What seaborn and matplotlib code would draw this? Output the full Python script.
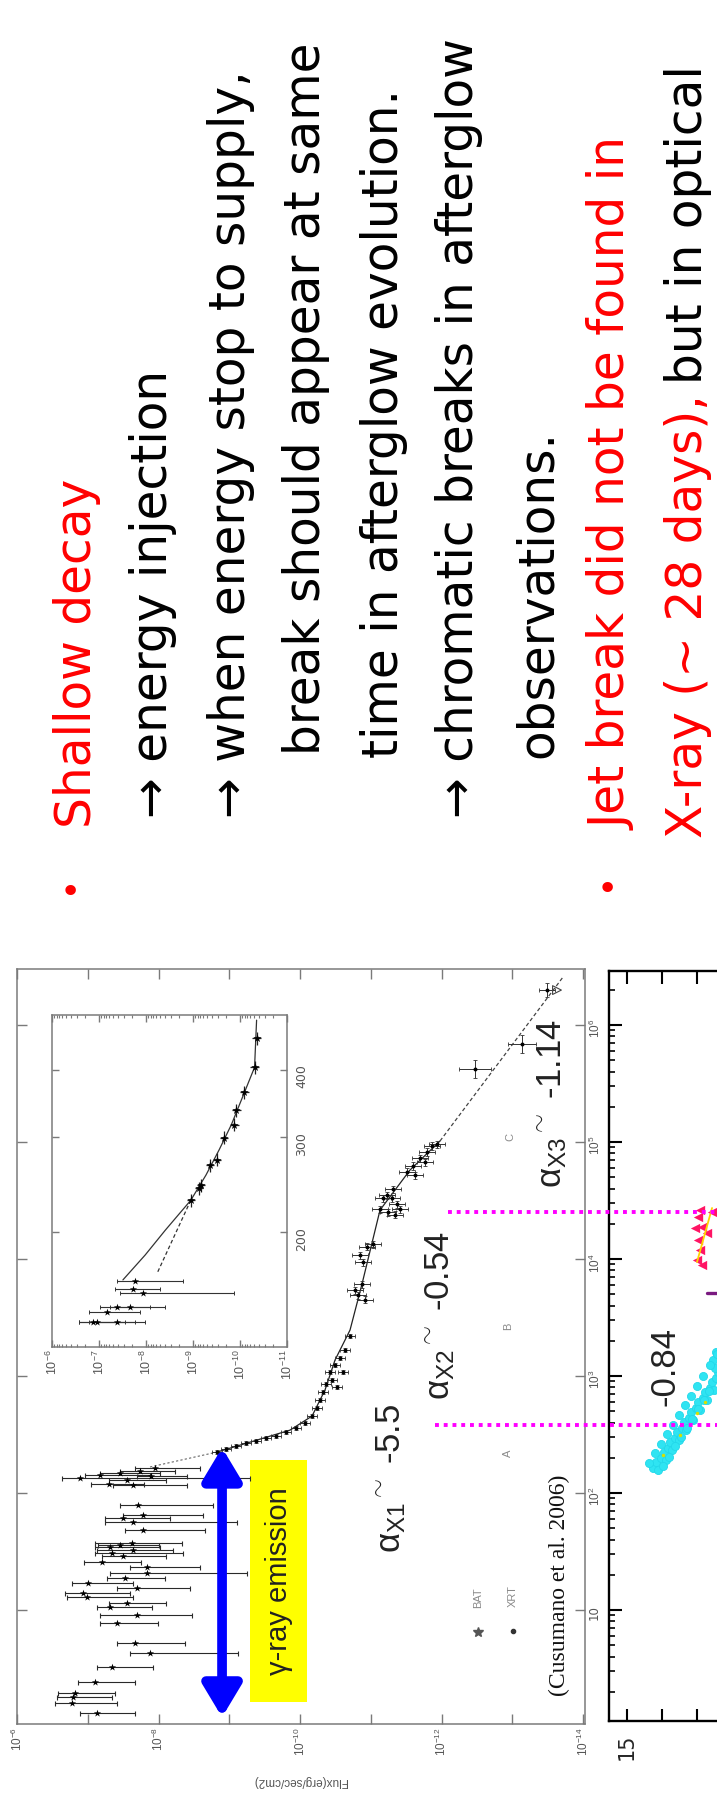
import matplotlib
matplotlib.use("Agg")
import matplotlib.pyplot as plt
import matplotlib.ticker as mticker
from matplotlib.patches import Rectangle
import numpy as np
import pandas as pd
import seaborn as sns

sns.set_style("white")
plt.rcParams["font.family"] = ["DejaVu Sans"]
plt.rcParams["mathtext.fontset"] = "custom"
plt.rcParams["mathtext.rm"] = "Liberation Sans"
plt.rcParams["mathtext.it"] = "Liberation Sans:italic"
plt.rcParams["mathtext.bf"] = "Liberation Sans:bold"
plt.rcParams["axes.unicode_minus"] = True

# ------------------------------------------------------------------ data
# Swift/BAT points: time (s), log10 flux (erg/s/cm2) and bar ends
bat_time = [1.32, 1.60, 1.80, 1.95, 2.43, 3.26, 4.29, 5.22, 7.74, 9.06, 10.6,
            12.9, 14.0, 15.4, 17.0, 18.8, 20.7, 23.3, 30.7, 32.6, 34.5, 37.4,
            48.3, 56.5, 61.1, 64.8, 78.9, 117, 134, 143, 148, 154, 164,
            29.0, 36.0, 120, 128, 140, 25.5, 11.5]
bat_logflux = [-7.131, -6.777, -6.792, -6.820, -7.102, -7.343, -7.880, -7.668,
               -7.413, -7.696, -7.314, -6.989, -6.933, -7.696, -7.004, -7.527,
               -7.837, -7.837, -7.343, -7.640, -7.314, -7.625, -7.781, -7.640,
               -7.498, -7.781, -7.710, -7.640, -6.890, -7.173, -7.456, -7.739, -7.951,
               -7.50, -7.45, -7.30, -7.55, -7.90, -7.20, -7.55]
bat_logflux_hi = [-6.890, -6.537, -6.565, -6.580, -6.862, -7.131, -7.597, -7.413,
                  -7.173, -7.173, -7.131, -6.707, -6.678, -7.413, -6.777, -7.272,
                  -7.314, -7.597, -7.102, -7.131, -7.102, -7.102, -7.527, -7.244,
                  -7.244, -7.498, -7.456, -7.357, -6.636, -6.961, -7.173, -7.456, -7.668,
                  -7.20, -7.15, -7.05, -7.30, -7.70, -6.95, -7.30]
bat_logflux_lo = [-7.668, -7.413, -7.343, -7.385, -7.668, -7.922, -9.124, -8.375,
                  -7.993, -8.473, -7.908, -7.640, -7.597, -8.445, -7.640, -8.092,
                  -9.251, -8.587, -8.346, -8.205, -8.021, -8.332, -8.657, -9.110,
                  -8.163, -8.629, -8.770, -8.403, -9.293, -7.880, -8.021, -8.233, -8.587,
                  -8.10, -8.00, -7.80, -8.10, -8.40, -7.75, -8.10]

# Swift/XRT points
xrt_time = [224, 238, 252, 268, 278, 295, 307, 332, 359, 396, 455, 532, 623, 729,
            855, 1081, 1242, 1425, 925, 1081, 805, 1667, 2198,
            4920, 6110, 5430, 4470, 10810, 12680, 13430, 9420, 26700, 33200, 35200,
            33200, 29500, 26700, 25200, 39600, 23800, 55500, 62400, 72900, 82200,
            92500, 96200, 67500, 52200,
            421000, 689000, 1990000]
xrt_logflux = [-8.827, -8.954, -9.095, -9.237, -9.378, -9.519, -9.661, -9.802, -9.943,
               -10.071, -10.170, -10.240, -10.283, -10.325, -10.367, -10.424, -10.495,
               -10.565, -10.452, -10.608, -10.523, -10.636, -10.707,
               -10.820, -10.876, -10.777, -10.919, -10.848, -10.947, -11.032, -10.890,
               -11.131, -11.173, -11.230, -11.300, -11.371, -11.413, -11.244, -11.314,
               -11.343, -11.512, -11.597, -11.696, -11.795, -11.866, -11.936, -11.767,
               -11.625,
               -12.473, -13.138, -13.491]
xrt_flux_err_dex = [0.07] * 23 + [0.11] * 25 + [0.22, 0.20, 0.11]
xrt_time_err_dex = [0.02] * 23 + [0.03] * 25 + [0.08, 0.08, 0.06]
xrt_uplim_time = [1990000]
xrt_uplim_logflux = [-13.632]

# broken power-law model
model_time = [224, 345, 455, 759, 1371, 2472, 6110, 26240, 57680, 102100]
model_logflux = [-8.827, -9.859, -10.170, -10.353, -10.495, -10.707, -10.876,
                 -11.131, -11.555, -11.979]
model_late_time = [102100, 2570000]
model_late_logflux = [-11.979, -13.717]
model_early_time = [167, 224]
model_early_logflux = [-7.880, -8.827]

# chromatic-break epochs (magenta dotted lines)
break_time = [25230, 381]
break_start_logflux = [-12.092, -11.908]
break_end_logflux = -15.894

# inset
inset_time = [457, 404, 363, 336, 316, 299, 272, 266, 244, 241, 229]
inset_logflux = [-10.353, -10.310, -10.095, -9.922, -9.879, -9.664, -9.513, -9.362,
                 -9.168, -9.125, -8.953]
inset_bat_time = [162, 154, 157, 145, 145, 142, 136, 136, 136]
inset_bat_logflux = [-7.767, -7.940, -7.724, -7.659, -7.379, -7.164, -6.862, -7.379, -6.948]
inset_bat_logflux_hi = [-7.379, -7.444, -7.336, -7.228, -7.013, -6.797, -6.582, -6.797, -6.582]
inset_bat_logflux_lo = [-8.780, -9.879, -8.306, -8.414, -8.091, -7.875, -7.552, -7.983, -7.767]
inset_model_time = [494, 404, 363, 316, 284, 255, 229, 201.7, 181.3, 163]
inset_model_logflux = [-10.353, -10.310, -10.095, -9.815, -9.556, -9.276, -8.953,
                       -8.414, -7.983, -7.509]
inset_dash_time = [229, 168]
inset_dash_logflux = [-8.953, -8.241]

# optical panel (cut off at the right)
opt_cyan_time = [164, 157, 184, 199, 192, 224, 242, 233, 273, 295, 284, 332, 359, 345,
                 404, 437, 421, 492, 532, 512, 600, 649, 624, 730, 789, 759, 889, 961,
                 1081, 1170, 1371, 1603,
                 170, 205, 250, 300, 360, 430, 520, 620, 740,
                 180, 220, 265, 320, 385, 465, 560, 680, 820, 1000, 1250, 1550]
opt_cyan_mag = [15.74, 15.89, 15.83, 15.97, 16.11, 16.06, 16.17, 16.29, 16.23, 16.37,
                16.49, 16.43, 16.57, 16.69, 16.63, 16.77, 16.89, 16.83, 16.97, 17.09,
                17.03, 17.17, 17.29, 17.23, 17.37, 17.49, 17.43, 17.54, 17.60, 17.51,
                17.46, 17.54,
                16.02, 16.19, 16.37, 16.53, 16.70, 16.86, 17.03, 17.19, 17.35,
                15.62, 15.80, 15.97, 16.14, 16.31, 16.48, 16.65, 16.82, 16.99, 17.17,
                17.37, 17.56]
opt_yellow_time = [211, 313, 483, 600]
opt_yellow_mag = [16.03, 16.51, 17.00, 17.23]
opt_red_time = [26200, 22860, 18790, 14530, 11940, 9800, 8890, 25230, 16670, 18410]
opt_red_mag = [17.09, 17.03, 17.14, 17.03, 17.09, 17.00, 17.14, 17.43, 17.29, 16.94]
opt_redfit_time = [9420, 27300]
opt_redfit_mag = [17.00, 17.43]
opt_purple_time = [5120, 5120]
opt_purple_mag = [17.29, 17.57]
opt_mag_label_ticks = [15]
opt_mag_minor_ticks = [16, 17, 18, 19, 20, 21, 22, 23, 24, 25, 26]

flux_tick_exp = list(range(-6, -15, -1))
time_tick_exp = list(range(1, 7))
inset_flux_tick_exp = list(range(-6, -12, -1))
inset_time_ticks = [200, 300, 400]

slide_lines = [
    ("Shallow decay", "#ff0000"),
    ("\u2192 energy injection", "black"),
    ("\u2192 when energy stop to supply,", "black"),
    ("break should appear at same", "black"),
    ("time in afterglow evolution.", "black"),
    ("\u2192 chromatic breaks in afterglow", "black"),
    ("observations.", "black"),
    ("Jet break did not be found in", "#ff0000"),
    ("X-ray (~ 28 days),", "#ff0000"),
    ("but in optical", "black"),
]

# ------------------------------------------------------------------ figure
W, H = 717, 1800
fig = plt.figure(figsize=(W / 100, H / 100), dpi=100)
fig.patch.set_facecolor("white")


def fx(px):
    return px / W


def fy(py):
    return 1 - py / H


GRAY = "#7a7a7a"

# ---------------- main light curve (rotated by 90 degrees) ----------------
ax = fig.add_axes([fx(17), fy(1724), 568 / W, 755 / H])
ax.set_zorder(3)
ax.set_xscale("log")
ax.set_yscale("log")

bat_flux = 10 ** np.array(bat_logflux)
bat_hi = 10 ** np.array(bat_logflux_hi)
bat_lo = 10 ** np.array(bat_logflux_lo)
ax.errorbar(bat_flux, bat_time, xerr=[bat_flux - bat_lo, bat_hi - bat_flux], fmt="none",
            ecolor="#2a2a2a", elinewidth=0.8, capsize=1.8, capthick=0.8, zorder=3)
sns.scatterplot(x=bat_flux, y=bat_time, ax=ax, color="black", marker="*", s=30,
                linewidth=0, legend=False, zorder=4)

xrt_flux = 10 ** np.array(xrt_logflux)
xrt_t = np.array(xrt_time, dtype=float)
fe = np.array(xrt_flux_err_dex)
te = np.array(xrt_time_err_dex)
ax.errorbar(xrt_flux, xrt_t,
            xerr=[xrt_flux - xrt_flux * 10 ** -fe, xrt_flux * 10 ** fe - xrt_flux],
            yerr=[xrt_t - xrt_t * 10 ** -te, xrt_t * 10 ** te - xrt_t],
            fmt="none", ecolor="#333333", elinewidth=0.7, capsize=1.2, capthick=0.6, zorder=3)
sns.scatterplot(x=xrt_flux, y=xrt_t, ax=ax, color="black", marker="o", s=8,
                linewidth=0, legend=False, zorder=4)
sns.scatterplot(x=10 ** np.array(xrt_uplim_logflux), y=xrt_uplim_time, ax=ax, marker=">",
                s=40, facecolor="none", edgecolor="#444444", linewidth=0.8, legend=False, zorder=4)

sns.lineplot(x=10 ** np.array(model_logflux), y=model_time, ax=ax, sort=False,
             estimator=None, color="#222222", lw=0.9, zorder=2)
sns.lineplot(x=10 ** np.array(model_late_logflux), y=model_late_time, ax=ax, sort=False,
             estimator=None, color="#444444", lw=0.9, linestyle=(0, (3, 2)), zorder=2)
sns.lineplot(x=10 ** np.array(model_early_logflux), y=model_early_time, ax=ax, sort=False,
             estimator=None, color="#666666", lw=0.8, linestyle=(0, (2, 2)), zorder=2)

ax.set_xlim(1e-6, 10 ** -14.028)
ax.set_ylim(10 ** 0.026, 10 ** 6.479)
ax.set_xlabel("")
ax.set_ylabel("")

for s in ax.spines.values():
    s.set_color(GRAY)
    s.set_linewidth(1.1)


def flux_fmt(v, p):
    e = int(round(np.log10(v)))
    return r"$10^{%d}$" % e if e % 2 == 0 else ""


def time_fmt(v, p):
    e = int(round(np.log10(v)))
    return "10" if e == 1 else r"$10^{%d}$" % e


ax.xaxis.set_major_locator(mticker.FixedLocator([10.0 ** e for e in flux_tick_exp]))
ax.xaxis.set_minor_locator(mticker.NullLocator())
ax.xaxis.set_major_formatter(mticker.FuncFormatter(flux_fmt))
ax.yaxis.set_major_locator(mticker.FixedLocator([10.0 ** e for e in time_tick_exp]))
ax.yaxis.set_minor_locator(mticker.NullLocator())
ax.yaxis.set_major_formatter(mticker.FuncFormatter(time_fmt))
ax.yaxis.tick_right()
ax.tick_params(axis="both", which="major", direction="in", length=7, width=1.0,
               color=GRAY, labelcolor="#555555", labelsize=8.5,
               top=True, bottom=True, left=True, right=True)
ax.tick_params(axis="x", labelrotation=90, pad=2)
ax.tick_params(axis="y", labelrotation=90, pad=2, labelleft=False, labelright=True)

# chromatic break epochs
ax.hlines(break_time, [10 ** v for v in break_start_logflux], 10 ** break_end_logflux,
          colors="#ff00ff", linestyles=[(0, (1, 1.25))], lw=2.8, clip_on=False, zorder=6)

# gamma-ray emission marker
ax.add_patch(Rectangle((0.410, 0.029), 0.101, 0.321, transform=ax.transAxes,
                       facecolor="#ffff00", edgecolor="none", zorder=1))
ax.text(0.4604, 0.1894, "\u03b3-ray emission", transform=ax.transAxes, rotation=90,
        ha="center", va="center", fontsize=21, family=["Liberation Sans", "DejaVu Sans"],
        color="#222222", zorder=5)
ax.annotate("", xy=(0.361, 0.366), xytext=(0.361, 0.009), xycoords="axes fraction",
            arrowprops=dict(arrowstyle="<|-|>,head_length=0.8,head_width=0.48",
                            mutation_scale=24, color="#0000ff", lw=7,
                            shrinkA=0, shrinkB=0), zorder=5)

# slope annotations
alpha_kw = dict(transform=ax.transAxes, rotation=90, ha="center", va="center",
                fontsize=25, family=["Liberation Sans", "DejaVu Sans"], color="#222222",
                zorder=5)
ax.text(0.6585, 0.3258, r"$\mathrm{\alpha}_{\mathrm{X1}}{}^{\sim}$ -5.5", **alpha_kw)
ax.text(0.7447, 0.5417, r"$\mathrm{\alpha}_{\mathrm{X2}}{}^{\sim}$ -0.54", **alpha_kw)
ax.text(0.9419, 0.8225, r"$\mathrm{\alpha}_{\mathrm{X3}}{}^{\sim}$ -1.14", **alpha_kw)

small_kw = dict(transform=ax.transAxes, rotation=90, ha="center", va="center",
                family=["Liberation Sans", "DejaVu Sans"], color="#8a8a8a", zorder=5)
ax.text(0.8644, 0.3589, "A", fontsize=8, **small_kw)
ax.text(0.8644, 0.5272, "B", fontsize=8, **small_kw)
ax.text(0.8680, 0.7775, "C", fontsize=8, **small_kw)
ax.text(0.8116, 0.1669, "BAT", fontsize=8, **small_kw)
ax.text(0.8732, 0.1695, "XRT", fontsize=8, **small_kw)
ax.plot([0.8116], [0.1219], marker="*", ms=7, color="#555555", transform=ax.transAxes, zorder=5)
ax.plot([0.8732], [0.1232], marker="o", ms=3, color="#333333", transform=ax.transAxes, zorder=5)
ax.text(0.9542, 0.1841, "(Cusumano et al. 2006)", transform=ax.transAxes, rotation=90,
        ha="center", va="center", fontsize=17, family=["Liberation Serif", "DejaVu Serif"],
        color="#111111", zorder=5)

fig.text(fx(300), fy(1781), "Flux(erg/sec/cm2)", rotation=180, ha="center", va="center",
         fontsize=8.5, family=["Liberation Sans", "DejaVu Sans"], color="#555555")

# ---------------- inset ----------------
axi = fig.add_axes([fx(52), fy(1347), 235 / W, 332 / H])
axi.set_zorder(4)
axi.set_xscale("log")
axi.set_yscale("log")
ib_flux = 10 ** np.array(inset_bat_logflux)
axi.errorbar(ib_flux, inset_bat_time,
             xerr=[ib_flux - 10 ** np.array(inset_bat_logflux_lo),
                   10 ** np.array(inset_bat_logflux_hi) - ib_flux],
             fmt="none", ecolor="#333333", elinewidth=0.8, capsize=1.5, capthick=0.7, zorder=3)
sns.scatterplot(x=ib_flux, y=inset_bat_time, ax=axi, color="black", marker="*", s=30,
                linewidth=0, legend=False, zorder=4)
i_flux = 10 ** np.array(inset_logflux)
i_t = np.array(inset_time, dtype=float)
axi.errorbar(i_flux, i_t, xerr=[i_flux - i_flux * 10 ** -0.09, i_flux * 10 ** 0.09 - i_flux],
             yerr=[i_t - i_t * 10 ** -0.012, i_t * 10 ** 0.012 - i_t],
             fmt="none", ecolor="#222222", elinewidth=0.9, zorder=3)
sns.scatterplot(x=i_flux, y=i_t, ax=axi, color="black", marker="*", s=40,
                linewidth=0, legend=False, zorder=4)
sns.lineplot(x=10 ** np.array(inset_model_logflux), y=inset_model_time, ax=axi, sort=False,
             estimator=None, color="#333333", lw=0.9, zorder=2)
sns.lineplot(x=10 ** np.array(inset_dash_logflux), y=inset_dash_time, ax=axi, sort=False,
             estimator=None, color="#333333", lw=0.9, linestyle=(0, (3, 2)), zorder=2)
axi.set_xlim(1e-6, 1e-11)
axi.set_ylim(122.4, 505)
axi.set_xlabel("")
axi.set_ylabel("")
for s in axi.spines.values():
    s.set_color(GRAY)
    s.set_linewidth(1.1)
axi.xaxis.set_major_locator(mticker.FixedLocator([10.0 ** e for e in inset_flux_tick_exp]))
axi.xaxis.set_minor_locator(mticker.LogLocator(base=10, subs=np.arange(2, 10), numticks=20))
axi.xaxis.set_major_formatter(mticker.FuncFormatter(lambda v, p: r"$10^{%d}$" % int(round(np.log10(v)))))
axi.xaxis.set_minor_formatter(mticker.NullFormatter())
axi.yaxis.set_major_locator(mticker.FixedLocator(inset_time_ticks))
axi.yaxis.set_minor_locator(mticker.NullLocator())
axi.yaxis.set_major_formatter(mticker.FuncFormatter(lambda v, p: "%d" % v))
axi.yaxis.tick_right()
axi.tick_params(axis="both", which="major", direction="in", length=5, width=1.0, color=GRAY,
                labelcolor="#555555", labelsize=9, top=True, bottom=True, left=True, right=True)
axi.tick_params(axis="x", which="minor", direction="in", length=2.5, width=0.8, color=GRAY,
                top=True, bottom=True)
axi.tick_params(axis="x", labelrotation=90, pad=2)
axi.tick_params(axis="y", labelrotation=90, pad=6, labelleft=False, labelright=True)

# ---------------- optical panel (cut by the slide edge) ----------------
ax2 = fig.add_axes([fx(609), fy(1721), 430 / W, 750 / H])
ax2.set_zorder(1)
ax2.patch.set_visible(False)
ax2.set_yscale("log")
sns.scatterplot(x=opt_cyan_mag, y=opt_cyan_time, ax=ax2, color="#2fe4f2", s=34,
                edgecolor="#22d8ea", linewidth=0.6, legend=False, zorder=3)
sns.scatterplot(x=opt_yellow_mag, y=opt_yellow_time, ax=ax2, color="#d8e000", s=6,
                linewidth=0, legend=False, zorder=4)
sns.scatterplot(x=opt_red_mag, y=opt_red_time, ax=ax2, color="#ff1464", marker="<", s=45,
                linewidth=0, legend=False, zorder=3)
sns.lineplot(x=opt_redfit_mag, y=opt_redfit_time, ax=ax2, sort=False, estimator=None,
             color="#ffd400", lw=1.3, zorder=4)
sns.lineplot(x=opt_purple_mag, y=opt_purple_time, ax=ax2, sort=False, estimator=None,
             color="#7a1a80", lw=2.4, zorder=4)
ax2.set_xlim(14.486, 26.77)
ax2.set_ylim(10 ** 0.0513, 10 ** 6.462)
ax2.set_xlabel("")
ax2.set_ylabel("")
for s in ax2.spines.values():
    s.set_color("black")
    s.set_linewidth(1.7)
ax2.yaxis.set_major_locator(mticker.LogLocator(base=10, numticks=20))
ax2.yaxis.set_minor_locator(mticker.LogLocator(base=10, subs=np.arange(2, 10), numticks=20))
ax2.yaxis.set_minor_formatter(mticker.NullFormatter())
ax2.tick_params(axis="y", which="major", direction="in", length=9, width=1.5, color="black",
                left=True, right=False, labelleft=False, labelright=False)
ax2.tick_params(axis="y", which="minor", direction="in", length=4.5, width=1.2, color="black",
                left=True, right=False)
ax2.xaxis.set_major_locator(mticker.FixedLocator(opt_mag_label_ticks))
ax2.xaxis.set_minor_locator(mticker.FixedLocator(opt_mag_minor_ticks))
ax2.xaxis.set_major_formatter(mticker.FuncFormatter(lambda v, p: "%g" % v))
ax2.xaxis.set_minor_formatter(mticker.NullFormatter())
ax2.tick_params(axis="x", which="both", direction="in", length=9, width=1.5, color="black",
                top=True, bottom=True, labelsize=15, labelrotation=90, pad=9)
fig.text(fx(665), fy(1366), "-0.84", rotation=90, ha="center", va="center", fontsize=25,
         family=["Liberation Sans", "DejaVu Sans"], color="#222222", zorder=7)

# ---------------- slide text (rotated 90 degrees) ----------------
text_anchor = [(91, 828), (167, 818), (245, 818), (320, 755), (398, 758), (473, 818),
               (552, 758), (627, 830), (702, 838), (702, 384)]
for (txt, col), (bx, by) in zip(slide_lines, text_anchor):
    fig.text(fx(bx), fy(by), txt, rotation=90, rotation_mode="anchor", ha="left",
             va="baseline", fontsize=35, color=col, family=["DejaVu Sans"])
for bx, by in [(70, 893), (607, 890)]:
    fig.text(fx(bx), fy(by), "\u2022", ha="center", va="center", fontsize=26, color="#ff0000")

fig.savefig("out.png", dpi=100, facecolor="white")
